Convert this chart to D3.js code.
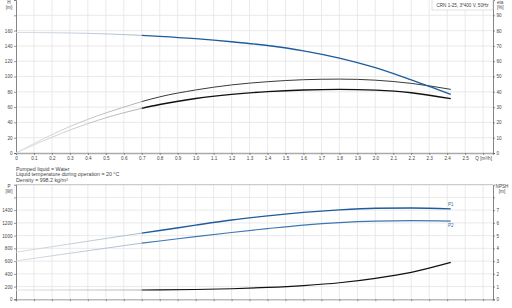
<!DOCTYPE html>
<html>
<head>
<meta charset="utf-8">
<script src="https://cdn.jsdelivr.net/npm/d3@7"></script>
<style>
body{margin:0;background:#fff;}
svg{display:block;font-family:"Liberation Sans",Arial,sans-serif;}
</style>
</head>
<body>
<div id="chart"></div>
<script>
// flow points (m3/h); left of 0.7 the curves are drawn pale
var qLow  = [0, 0.1, 0.2, 0.3, 0.4, 0.5, 0.6, 0.7];
var qHigh = [0.7, 0.8, 1.0, 1.2, 1.4, 1.6, 1.8, 2.0, 2.2, 2.42];

// top chart: head [m] and efficiencies [%]
var headLow  = [157.5, 157.4, 157.2, 156.9, 156.4, 155.7, 154.8, 153.7];
var headHigh = [153.7, 152.5, 149.5, 145.5, 140.5, 133.5, 124, 111.5, 95.5, 76.5];
var eta1Low  = [0, 6.2, 12, 17.3, 22, 26.2, 30, 33.6];
var eta1High = [33.6, 36.7, 41.2, 44.5, 46.6, 47.9, 48.3, 47.6, 45.5, 41.6];
var eta2Low  = [0, 5.3, 10.3, 15, 19.2, 23, 26.3, 29.2];
var eta2High = [29.2, 31.7, 35.6, 38.3, 40.1, 41.2, 41.6, 41.1, 39.4, 35.5];

// bottom chart: power [W] and NPSH [m]
var p1Low  = [740, 783, 826, 869, 912, 955, 998, 1040];
var p1High = [1040, 1080, 1165, 1245, 1310, 1365, 1405, 1430, 1435, 1420];
var p2Low  = [603, 643, 683, 723, 763, 803, 843, 882];
var p2High = [882, 915, 985, 1050, 1110, 1165, 1205, 1228, 1235, 1228];
var npshLow  = [0.73, 0.73, 0.73, 0.73, 0.73, 0.73, 0.73, 0.73];
var npshHigh = [0.73, 0.74, 0.77, 0.83, 0.93, 1.08, 1.3, 1.65, 2.12, 2.9];

var qTicks    = [0,0.1,0.2,0.3,0.4,0.5,0.6,0.7,0.8,0.9,1.0,1.1,1.2,1.3,1.4,1.5,1.6,1.7,1.8,1.9,2.0,2.1,2.2,2.3,2.4,2.5,2.6];
var hTicks    = [0,20,40,60,80,100,120,140,160,180];
var etaTicks  = [0,10,20,30,40,50,60,70,80,90];
var pTicks    = [0,200,400,600,800,1000,1200,1400,1600];
var npshTicks = [0,1,2,3,4,5,6,7,8];
var infoLines = ["Pumped liquid = Water", "Liquid temperature during operation = 20 °C", "Density = 998.2 kg/m³"];
var legendText = "CRN 1-25, 3*400 V, 50Hz";

var svgWidth = 512, svgHeight = 308;
var left = 16, right = 493;
var gridColor = "#e4e4e4", textColor = "#444", fontSize = 4.6;

var svg = d3.select("#chart").append("svg")
  .attr("width", svgWidth)
  .attr("height", svgHeight);
var defs = svg.append("defs");

var xScale = d3.scaleLinear().domain([0, 2.655]).range([left, right]);

function makePale(id, c0, c1){
  var g = defs.append("linearGradient")
    .attr("id", id)
    .attr("gradientUnits", "userSpaceOnUse")
    .attr("x1", xScale(0)).attr("x2", xScale(0.7))
    .attr("y1", 0).attr("y2", 0);
  g.append("stop").attr("offset", "0%").attr("stop-color", c0);
  g.append("stop").attr("offset", "100%").attr("stop-color", c1);
}
makePale("paleGrey", "#dedede", "#a9a9a9");
makePale("paleBlue", "#d3dae3", "#a3b3c7");

function drawGrid(g, yScale, yGrid, top, bottom){
  g.selectAll(".vgrid").data(qTicks.slice(1)).enter().append("line")
    .attr("x1", d => xScale(d)).attr("x2", d => xScale(d))
    .attr("y1", top).attr("y2", bottom)
    .attr("stroke", gridColor).attr("stroke-width", 0.8);
  g.selectAll(".hgrid").data(yGrid.slice(1)).enter().append("line")
    .attr("x1", left).attr("x2", right)
    .attr("y1", d => yScale(d)).attr("y2", d => yScale(d))
    .attr("stroke", gridColor).attr("stroke-width", 0.8);
}

function styleAxis(ax, lineColor, lineWidth){
  ax.selectAll(".domain").attr("stroke", lineColor).attr("stroke-width", lineWidth);
  ax.selectAll(".tick line").attr("stroke", "#555").attr("stroke-width", 0.6);
  ax.selectAll(".tick text").attr("fill", textColor).style("font-size", fontSize + "px");
}

function drawCurve(g, qs, vals, yScale, color, width){
  var line = d3.line()
    .x((d, i) => xScale(qs[i]))
    .y(d => yScale(d))
    .curve(d3.curveMonotoneX);
  g.append("path")
    .attr("d", line(vals))
    .attr("fill", "none")
    .attr("stroke", color)
    .attr("stroke-width", width);
}

function axisTitle(g, x, y, lines, anchor){
  lines.forEach((t, i) => {
    g.append("text").attr("x", x).attr("y", y + i * 4.6)
      .attr("text-anchor", anchor)
      .attr("fill", textColor).style("font-size", fontSize + "px")
      .text(t);
  });
}

// ---------- top chart ----------
var topG = svg.append("g");
var hScale = d3.scaleLinear().domain([0, 200]).range([153, 0]);
var etaScale = d3.scaleLinear().domain([0, 100]).range([153, 0]);

drawGrid(topG, hScale, [0,20,40,60,80,100,120,140,160,180], 0, 153);

var xAxisTop = topG.append("g")
  .attr("transform", "translate(0,153)")
  .call(d3.axisBottom(xScale).tickValues(qTicks).tickSize(2).tickPadding(2)
    .tickFormat(d => d == 2.6 ? "Q [m³/h]" : (d == 0 ? "0" : d3.format(".1f")(d))));
styleAxis(xAxisTop, "#aaa", 1.5);

var yAxisLeft = topG.append("g")
  .attr("transform", "translate(" + left + ",0)")
  .call(d3.axisLeft(hScale).tickValues(hTicks).tickSize(2).tickPadding(1.5)
    .tickFormat(d => d == 180 ? "" : d));
styleAxis(yAxisLeft, "#666", 0.8);

var yAxisRight = topG.append("g")
  .attr("transform", "translate(" + right + ",0)")
  .call(d3.axisRight(etaScale).tickValues(etaTicks).tickSize(2).tickPadding(1.5));
styleAxis(yAxisRight, "#666", 0.8);

axisTitle(topG, 9, 4, ["H", "[m]"], "middle");
axisTitle(topG, 497, 4, ["eta", "[%]"], "start");

drawCurve(topG, qLow, headLow, hScale, "url(#paleBlue)", 0.9);
drawCurve(topG, qLow, eta1Low, etaScale, "url(#paleGrey)", 0.9);
drawCurve(topG, qLow, eta2Low, etaScale, "url(#paleGrey)", 0.9);
drawCurve(topG, qHigh, eta1High, etaScale, "#3a3a3a", 1);
drawCurve(topG, qHigh, eta2High, etaScale, "#111", 1.4);
drawCurve(topG, qHigh, headHigh, hScale, "#1f5c9c", 1.4);

// legend box
var legendW = 61;
topG.append("rect")
  .attr("x", right - legendW).attr("y", -1)
  .attr("width", legendW).attr("height", 11)
  .attr("fill", "#fff").attr("stroke", "#ccc").attr("stroke-width", 0.6);
topG.append("text")
  .attr("x", right - legendW / 2).attr("y", 6.5)
  .attr("text-anchor", "middle")
  .attr("fill", textColor).style("font-size", fontSize + "px")
  .text(legendText);

// info lines
infoLines.forEach((t, i) => {
  svg.append("text")
    .attr("x", left).attr("y", 171 + i * 5.4)
    .attr("fill", textColor).style("font-size", "5.3px")
    .text(t);
});

// ---------- bottom chart ----------
var botG = svg.append("g");
var pScale = d3.scaleLinear().domain([0, 1800]).range([299.3, 184.7]);
var npshScale = d3.scaleLinear().domain([0, 9]).range([299.3, 184.7]);

drawGrid(botG, pScale, pTicks, 184.7, 299.3);

botG.append("line")
  .attr("x1", left).attr("x2", right)
  .attr("y1", 184.7).attr("y2", 184.7)
  .attr("stroke", "#ccc").attr("stroke-width", 1.2);

var xAxisBot = botG.append("g")
  .attr("transform", "translate(0,299.3)")
  .call(d3.axisBottom(xScale).tickValues(qTicks).tickSize(2).tickFormat(""));
styleAxis(xAxisBot, "#bbb", 1.5);

var pAxis = botG.append("g")
  .attr("transform", "translate(" + left + ",0)")
  .call(d3.axisLeft(pScale).tickValues(pTicks).tickSize(2).tickPadding(1.5)
    .tickFormat(d => d == 1600 ? "" : d));
styleAxis(pAxis, "#666", 0.8);

var npshAxis = botG.append("g")
  .attr("transform", "translate(" + right + ",0)")
  .call(d3.axisRight(npshScale).tickValues(npshTicks).tickSize(2).tickPadding(1.5)
    .tickFormat(d => d == 8 ? "" : d));
styleAxis(npshAxis, "#666", 0.8);

axisTitle(botG, 9, 188, ["P", "[W]"], "middle");
axisTitle(botG, 502, 188, ["NPSH", "[m]"], "middle");

drawCurve(botG, qLow, npshLow, npshScale, "url(#paleGrey)", 0.9);
drawCurve(botG, qLow, p1Low, pScale, "url(#paleBlue)", 0.9);
drawCurve(botG, qLow, p2Low, pScale, "url(#paleBlue)", 0.9);
drawCurve(botG, qHigh, npshHigh, npshScale, "#111", 1.2);
drawCurve(botG, qHigh, p1High, pScale, "#1f5c9c", 1.4);
drawCurve(botG, qHigh, p2High, pScale, "#3d78b3", 1.1);

botG.append("text")
  .attr("x", xScale(2.42)).attr("y", pScale(p1High[p1High.length - 1]) - 2.5)
  .attr("text-anchor", "middle")
  .attr("fill", "#3d6fa8").style("font-size", fontSize + "px")
  .text("P1");
botG.append("text")
  .attr("x", xScale(2.42)).attr("y", pScale(p2High[p2High.length - 1]) + 5.5)
  .attr("text-anchor", "middle")
  .attr("fill", "#3d6fa8").style("font-size", fontSize + "px")
  .text("P2");
</script>
</body>
</html>
